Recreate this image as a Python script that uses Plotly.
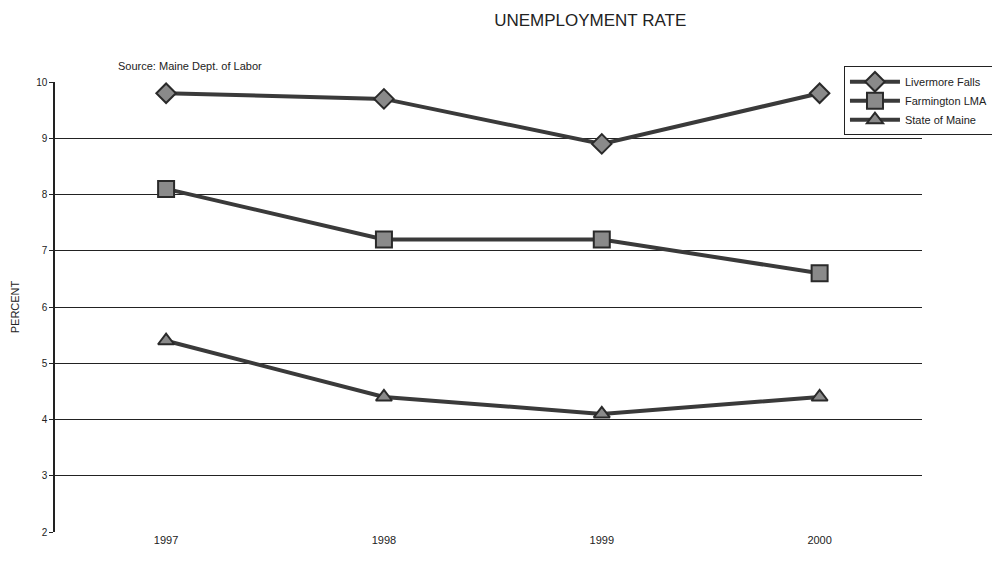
import plotly.graph_objects as go

years = ["1997", "1998", "1999", "2000"]
livermore = [9.8, 9.7, 8.9, 9.8]
farmington = [8.1, 7.2, 7.2, 6.6]
maine = [5.4, 4.4, 4.1, 4.4]
y_ticks = [2, 3, 4, 5, 6, 7, 8, 9, 10]

series = [
    ("Livermore Falls", livermore, "diamond", 15),
    ("Farmington LMA", farmington, "square", 16),
    ("State of Maine", maine, "triangle-up", 14),
]

fig = go.Figure()
for name, vals, sym, size in series:
    fig.add_trace(go.Scatter(
        x=years, y=vals, name=name, mode="lines+markers",
        line=dict(color="#3a3a3a", width=4),
        marker=dict(symbol=sym, size=size, color="#8a8a8a",
                    line=dict(color="#2a2a2a", width=2)),
    ))

fig.update_layout(
    width=992, height=561,
    margin=dict(l=55, r=70, t=82, b=29, autoexpand=False),
    paper_bgcolor="white", plot_bgcolor="white",
    font=dict(family="Liberation Sans, Arial, sans-serif", color="#222", size=10),
    title=dict(text="UNEMPLOYMENT RATE", x=0.595, xanchor="center", y=0.965,
               yanchor="middle", font=dict(size=17, color="#222")),
    showlegend=True,
    annotations=[dict(text="Source: Maine Dept. of Labor", xref="paper", yref="paper",
                      x=0.07, y=1.035, xanchor="left", yanchor="middle",
                      showarrow=False, font=dict(size=11, color="#222"))],
    legend=dict(x=0.91, y=1.035, xanchor="left", yanchor="top",
                bgcolor="white", bordercolor="#222", borderwidth=1,
                font=dict(size=11), tracegroupgap=2, itemwidth=50),
)
fig.update_xaxes(type="category", range=[-0.51, 3.47], showgrid=False,
                 showline=False, ticks="", tickfont=dict(size=11))
fig.update_yaxes(range=[2, 10], tickvals=y_ticks, showgrid=True, gridcolor="#222",
                 gridwidth=1.2, showline=True, linecolor="#222", linewidth=1.5,
                 ticks="outside", ticklen=4, tickcolor="#222", zeroline=False,
                 tickfont=dict(size=10),
                 title=dict(text="PERCENT", font=dict(size=11), standoff=14))

fig.write_html("out.html")
